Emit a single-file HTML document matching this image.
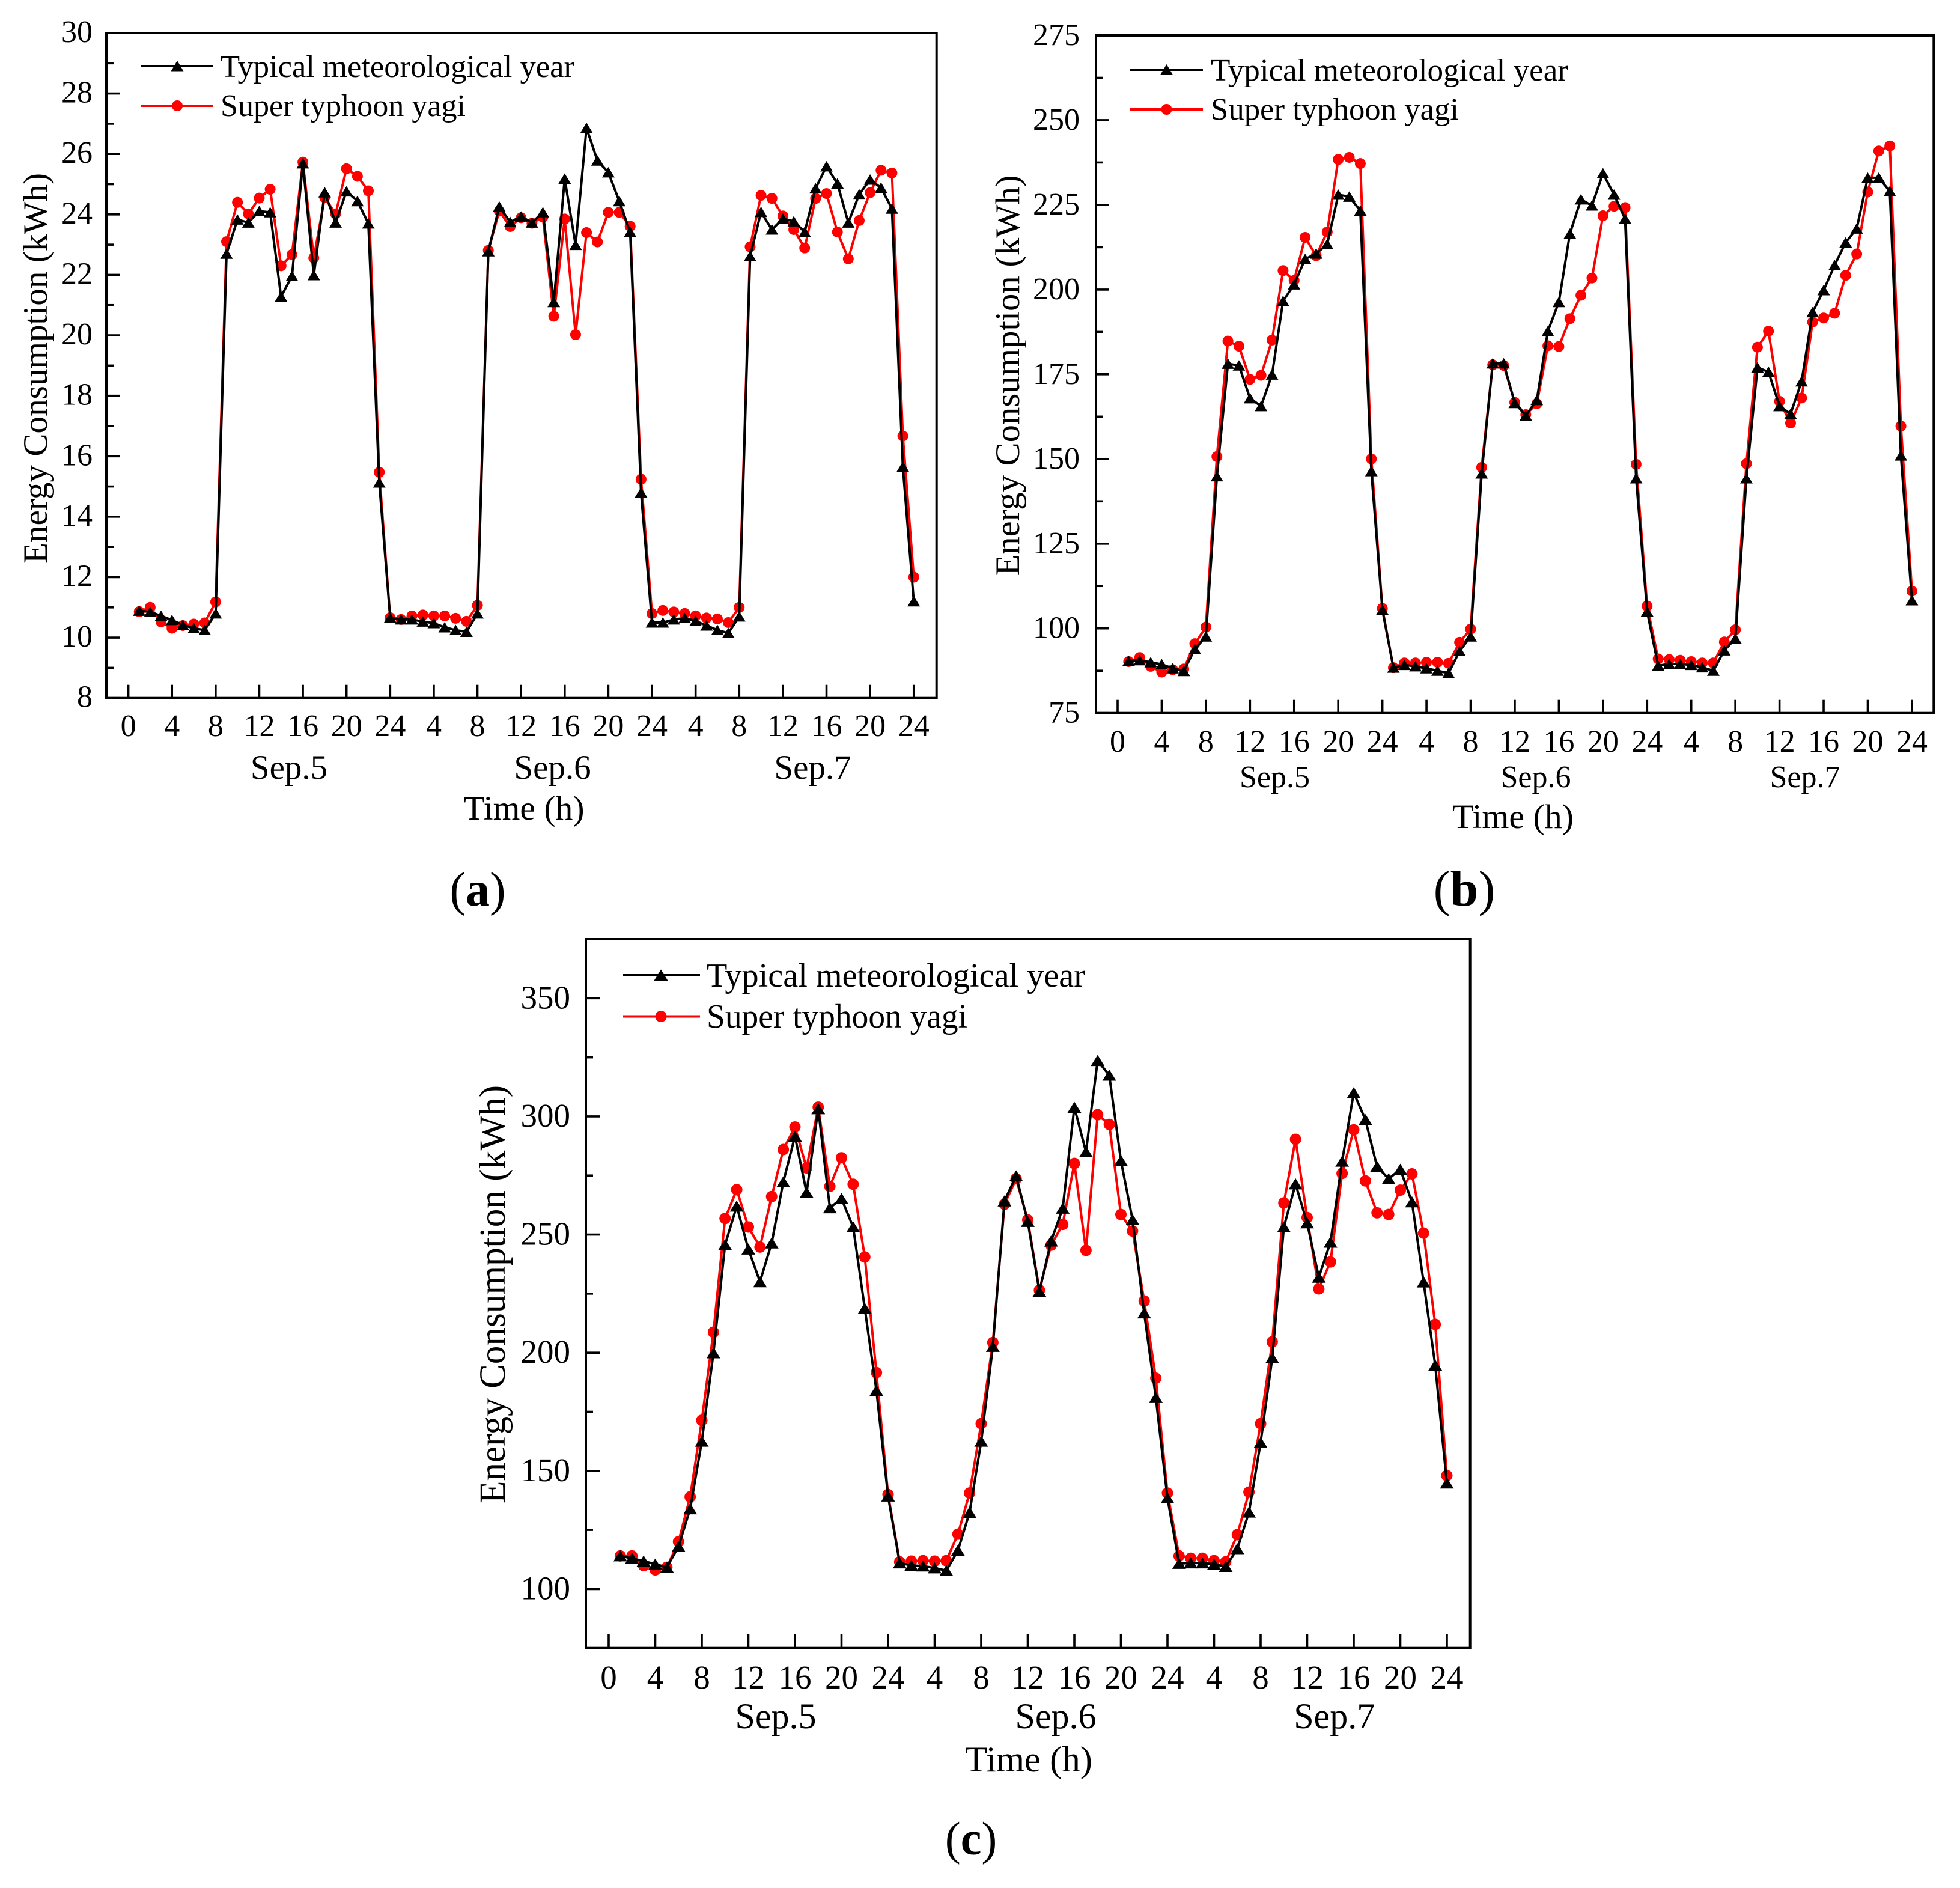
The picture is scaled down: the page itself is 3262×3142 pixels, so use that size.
<!DOCTYPE html>
<html lang="en">
<head>
<meta charset="utf-8">
<title>Energy consumption comparison</title>
<style>
  html, body { margin: 0; padding: 0; background: #fff; }
  svg { display: block; font-family: "Liberation Serif", serif; fill: #000; }
</style>
</head>
<body>
<svg id="figure" xmlns="http://www.w3.org/2000/svg" width="3262" height="3142" viewBox="0 0 3262 3142">
  <rect x="0" y="0" width="3262" height="3142" fill="#fff"/>

  <g id="panel-a"></g>
  <g id="panel-b"></g>
  <g id="panel-c"></g>

  <!-- Panel a static text -->
  <text transform="translate(78 613) rotate(-90)" text-anchor="middle" font-size="57" textLength="650" lengthAdjust="spacingAndGlyphs">Energy Consumption (kWh)</text>
  <text x="872" y="1364" text-anchor="middle" font-size="57" textLength="201" lengthAdjust="spacingAndGlyphs">Time (h)</text>
  <text x="481" y="1296" text-anchor="middle" font-size="57">Sep.5</text>
  <text x="919.5" y="1296" text-anchor="middle" font-size="57">Sep.6</text>
  <text x="1352.5" y="1296" text-anchor="middle" font-size="57">Sep.7</text>
  <text x="367" y="128" font-size="52" textLength="589" lengthAdjust="spacingAndGlyphs">Typical meteorological year</text>
  <text x="367" y="193" font-size="52" textLength="408" lengthAdjust="spacingAndGlyphs">Super typhoon yagi</text>
  <text x="795" y="1507" text-anchor="middle" font-size="80">(<tspan font-weight="bold">a</tspan>)</text>

  <!-- Panel b static text -->
  <text transform="translate(1696 625) rotate(-90)" text-anchor="middle" font-size="57" textLength="667" lengthAdjust="spacingAndGlyphs">Energy Consumption (kWh)</text>
  <text x="2518" y="1378" text-anchor="middle" font-size="57" textLength="202" lengthAdjust="spacingAndGlyphs">Time (h)</text>
  <text x="2121.5" y="1310" text-anchor="middle" font-size="52">Sep.5</text>
  <text x="2556" y="1310" text-anchor="middle" font-size="52">Sep.6</text>
  <text x="3004" y="1310" text-anchor="middle" font-size="52">Sep.7</text>
  <text x="2015" y="134" font-size="52" textLength="595" lengthAdjust="spacingAndGlyphs">Typical meteorological year</text>
  <text x="2015" y="199" font-size="52" textLength="413" lengthAdjust="spacingAndGlyphs">Super typhoon yagi</text>
  <text x="2437" y="1507" text-anchor="middle" font-size="84">(<tspan font-weight="bold">b</tspan>)</text>

  <!-- Panel c static text -->
  <text transform="translate(840 2154) rotate(-90)" text-anchor="middle" font-size="61" textLength="696" lengthAdjust="spacingAndGlyphs">Energy Consumption (kWh)</text>
  <text x="1712" y="2948" text-anchor="middle" font-size="60" textLength="212" lengthAdjust="spacingAndGlyphs">Time (h)</text>
  <text x="1291" y="2876" text-anchor="middle" font-size="60">Sep.5</text>
  <text x="1757" y="2876" text-anchor="middle" font-size="60">Sep.6</text>
  <text x="2220.7" y="2876" text-anchor="middle" font-size="60">Sep.7</text>
  <text x="1176" y="1642" font-size="56" textLength="630" lengthAdjust="spacingAndGlyphs">Typical meteorological year</text>
  <text x="1176" y="1710" font-size="56" textLength="434" lengthAdjust="spacingAndGlyphs">Super typhoon yagi</text>
  <text x="1616" y="3086" text-anchor="middle" font-size="78">(<tspan font-weight="bold">c</tspan>)</text>
</svg>

<script>
// ---- Shared categories ----
const hourTickLabels = ['0','4','8','12','16','20','24','4','8','12','16','20','24','4','8','12','16','20','24'];
const hourTickIndices = [0,4,8,12,16,20,24,28,32,36,40,44,48,52,56,60,64,68,72];

// ---- Panel a values (kWh), hours 1..72 ----
const aTypical = [
  10.89,10.85,10.72,10.58,10.42,10.31,10.25,10.8,22.7,23.83,23.73,24.11,24.07,21.28,21.96,25.69,21.99,24.73,23.73,24.76,24.44,23.7,15.13,10.66,
  10.6,10.6,10.53,10.48,10.34,10.25,10.19,10.8,22.78,24.26,23.75,23.93,23.73,24.07,21.1,25.18,22.99,26.86,25.78,25.39,24.44,23.42,14.8,10.5,
  10.5,10.6,10.65,10.55,10.4,10.25,10.15,10.7,22.62,24.08,23.5,23.86,23.77,23.42,24.86,25.59,25.02,23.73,24.66,25.15,24.88,24.19,15.65,11.2
];
const aYagi = [
  10.86,11.0,10.52,10.31,10.4,10.45,10.49,11.18,23.1,24.4,24.02,24.54,24.83,22.3,22.67,25.73,22.56,24.56,24.02,25.51,25.26,24.78,15.47,10.66,
  10.6,10.72,10.75,10.72,10.72,10.64,10.54,11.07,22.81,24.11,23.6,23.89,23.71,23.91,20.63,23.85,20.02,23.4,23.09,24.07,24.07,23.61,15.24,10.8,
  10.9,10.85,10.8,10.72,10.65,10.62,10.5,11.0,22.93,24.63,24.53,23.95,23.5,22.89,24.53,24.69,23.42,22.53,23.8,24.72,25.46,25.37,16.67,12.0
];
const aMajorTicks = [8,10,12,14,16,18,20,22,24,26,28,30];
const aMinorTicks = [9,11,13,15,17,19,21,23,25,27,29];

// ---- Panel b values (kWh), hours 1..72 ----
const bTypical = [
  90.4,90.6,90.0,89.4,88.2,87.4,93.9,97.6,144.9,178.1,177.6,167.9,165.6,174.9,196.6,201.5,209,210.6,213.4,228,227.4,223.3,146.4,105.5,
  88.4,89.2,88.8,88.2,87.5,86.8,93.3,97.6,145.7,178.2,178.2,166.5,162.8,167.4,187.7,196.3,216.5,226.6,224.8,234.3,228,220.9,144.3,105,
  89,89.5,89.5,89.2,88.5,87.5,93.5,97,144.3,177,175.7,165.6,163.3,172.9,193.3,199.8,207.2,213.9,218,233,233,229,151,108.3
];
const bYagi = [
  90.2,91.4,88.8,87.1,87.8,88.0,95.5,100.4,150.7,184.8,183.3,173.5,174.7,185.1,205.6,202.7,215.4,210,217,238.4,239,237.2,150,105.9,
  88.4,89.8,89.8,90,90,89.7,95.9,99.8,147.5,177.8,177.6,166.7,163.1,166.3,183.4,183.2,191.4,198.3,203.4,221.8,224.6,224.2,148.4,106.6,
  91,90.8,90.6,90.2,89.8,89.8,96,99.6,148.6,183,187.7,167,160.6,168,190.4,191.6,193,204.2,210.5,228.8,240.9,242.4,159.7,111
];
const bMajorTicks = [75,100,125,150,175,200,225,250,275];
const bMinorTicks = [87.5,112.5,137.5,162.5,187.5,212.5,237.5,262.5];

// ---- Panel c values (kWh), hours 1..72 ----
const cTypical = [
  114,113,111.8,110.5,109.2,118,133.9,162.5,199.9,245.7,262,243.8,230,246.4,272.3,291.6,267.8,303.2,261.3,265.2,253.2,218.8,184,139.3,
  111,110,109.7,108.9,107.8,116.3,132.4,162.5,202.6,264.2,274.8,255.5,225.9,247.2,261.1,303.8,285,323.6,317.4,281.3,256.3,216.8,181,138.5,
  110.8,111,111,110.5,109.5,117,132.5,162,197.8,253.2,271.4,254.9,231.9,246.7,281,310,298.6,278.8,273.6,277.6,263.8,229.9,194.7,144.8
];
const cYagi = [
  114,114,109.9,108.1,109.2,120,139,171.4,208.7,256.8,269,253.2,244.7,266.1,286,295.5,278.2,303.9,270.4,282.5,271.3,240.5,191.6,140,
  111.5,111.8,112,111.8,112,123.2,140.6,170,204.3,262.8,273.6,256.2,226.5,245.5,254.3,280.1,243.3,300.7,296.6,258.5,251.5,221.9,189.2,140.6,
  114,113,113,112,111.5,123,141,170,204.6,263.4,290.3,257.2,227,238.4,275.9,294.3,272.7,259.2,258.5,268.8,275.7,250.6,212,148
];
const cMajorTicks = [100,150,200,250,300,350];
const cMinorTicks = [125,175,225,275,325];

const SVG_NS = 'http://www.w3.org/2000/svg';

function make(tag, attrs, parent) {
  const node = document.createElementNS(SVG_NS, tag);
  for (const key in attrs) node.setAttribute(key, attrs[key]);
  parent.appendChild(node);
  return node;
}

function trianglePoints(cx, cy, halfW, up, down) {
  return (cx - halfW) + ',' + (cy + down) + ' ' + (cx + halfW) + ',' + (cy + down) + ' ' + cx + ',' + (cy - up);
}

function drawPanel(id, frame, domain, xAxis, majorTicks, minorTicks, typical, yagi, legend, style) {
  const g = document.getElementById(id);
  const xScale = function (i) { return xAxis.origin + xAxis.step * i; };
  const yScale = function (v) { return frame.bottom - (v - domain.min) * (frame.bottom - frame.top) / (domain.max - domain.min); };

  // Y ticks and labels
  majorTicks.forEach(function (v) {
    const tick = make('line', {x1: frame.left, x2: frame.left + style.majorLen, y1: yScale(v), y2: yScale(v), stroke: '#000', 'stroke-width': style.tickW}, g);
    
    
    const label = make('text', {x: style.yLabelRight, y: yScale(v) + style.yLabelDy, 'text-anchor': 'end', 'font-size': style.tickFont}, g);
    label.textContent = String(v);
    
    
  });
  minorTicks.forEach(function (v) {
    const tick = make('line', {x1: frame.left, x2: frame.left + style.minorLen, y1: yScale(v), y2: yScale(v), stroke: '#000', 'stroke-width': style.tickW}, g);
    
    
  });

  // X ticks and labels
  hourTickIndices.forEach(function (h, k) {
    const tick = make('line', {x1: xScale(h), x2: xScale(h), y1: frame.bottom, y2: frame.bottom - style.majorLen, stroke: '#000', 'stroke-width': style.tickW}, g);
    
    
    const label = make('text', {x: xScale(h), y: style.xLabelBase, 'text-anchor': 'middle', 'font-size': style.tickFont}, g);
    label.textContent = hourTickLabels[k];
    
    
  });

  // Series: red underneath, black on top
  const seriesX = function (idx) { return xScale(idx + 1); };

  const yagiLine = make('polyline', {
    points: yagi.map(function (v, idx) { return seriesX(idx) + ',' + yScale(v); }).join(' '),
    fill: 'none', stroke: '#ff0000', 'stroke-width': style.lineW, 'stroke-linejoin': 'miter'
  }, g);
  
  

  yagi.forEach(function (v, idx) {
    const dot = make('circle', {cx: seriesX(idx), cy: yScale(v), r: style.dotR, fill: '#ff0000'}, g);
    
    
  });

  const typicalLine = make('polyline', {
    points: typical.map(function (v, idx) { return seriesX(idx) + ',' + yScale(v); }).join(' '),
    fill: 'none', stroke: '#000', 'stroke-width': style.lineW, 'stroke-linejoin': 'miter'
  }, g);
  
  

  typical.forEach(function (v, idx) {
    const tri = make('polygon', {points: trianglePoints(seriesX(idx), yScale(v), style.triW, style.triUp, style.triDown), fill: '#000'}, g);
    
    
  });

  // Frame
  const box = make('rect', {x: frame.left, y: frame.top, width: frame.right - frame.left, height: frame.bottom - frame.top, fill: 'none', stroke: '#000', 'stroke-width': style.frameW}, g);
  
  

  // Legend samples
  const legendTypicalLine = make('line', {x1: legend.x1, x2: legend.x2, y1: legend.y1, y2: legend.y1, stroke: '#000', 'stroke-width': style.lineW}, g);
  
  
  const legendTriangle = make('polygon', {points: trianglePoints(legend.mx, legend.y1, style.triW, style.triUp, style.triDown), fill: '#000'}, g);
  
  
  const legendYagiLine = make('line', {x1: legend.x1, x2: legend.x2, y1: legend.y2, y2: legend.y2, stroke: '#ff0000', 'stroke-width': style.lineW}, g);
  
  
  const legendDot = make('circle', {cx: legend.mx, cy: legend.y2, r: style.dotR, fill: '#ff0000'}, g);
  
  
}

drawPanel('panel-a',
  {left: 177, right: 1558.7, top: 55, bottom: 1161.7},
  {min: 8, max: 30},
  {origin: 213.6, step: 18.155},
  aMajorTicks, aMinorTicks, aTypical, aYagi,
  {x1: 235, x2: 355, y1: 110, y2: 176, mx: 295},
  {majorLen: 22, minorLen: 12, tickW: 3.6, lineW: 4, frameW: 4, dotR: 9, triW: 10.5, triUp: 9, triDown: 8.5,
   tickFont: 52, yLabelRight: 154, yLabelDy: 15, xLabelBase: 1225});

drawPanel('panel-b',
  {left: 1824, right: 3218.3, top: 59, bottom: 1186.7},
  {min: 75, max: 275},
  {origin: 1860, step: 18.36},
  bMajorTicks, bMinorTicks, bTypical, bYagi,
  {x1: 1881, x2: 2002, y1: 116, y2: 182, mx: 1941.5},
  {majorLen: 22, minorLen: 12, tickW: 3.6, lineW: 4, frameW: 4, dotR: 9, triW: 10.5, triUp: 9, triDown: 8.5,
   tickFont: 52, yLabelRight: 1797, yLabelDy: 16, xLabelBase: 1251});

drawPanel('panel-c',
  {left: 975, right: 2446.7, top: 1563, bottom: 2742.7},
  {min: 75, max: 375},
  {origin: 1013, step: 19.375},
  cMajorTicks, cMinorTicks, cTypical, cYagi,
  {x1: 1037, x2: 1165, y1: 1623, y2: 1691.5, mx: 1100},
  {majorLen: 23, minorLen: 12, tickW: 3.6, lineW: 4, frameW: 4, dotR: 9.5, triW: 11.5, triUp: 9.5, triDown: 9,
   tickFont: 55, yLabelRight: 949, yLabelDy: 17, xLabelBase: 2810});
</script>
</body>
</html>
